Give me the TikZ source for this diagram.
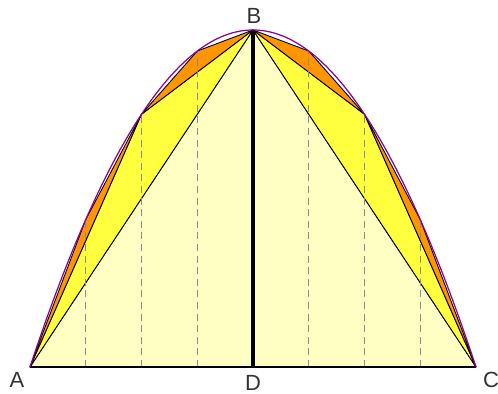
\documentclass[tikz,border=0pt]{standalone}
\usepackage{fontspec}
\setmainfont{Liberation Sans}
\definecolor{paleyellow}{RGB}{255,255,196}
\definecolor{brightyellow}{RGB}{255,255,64}
\definecolor{segorange}{RGB}{255,150,0}
\definecolor{curvepurple}{RGB}{140,0,150}

\begin{document}
\begin{tikzpicture}[
  x=0.02cm, y=-0.02cm,
  declare function={py(\x)=30+337*((\x-253)/223)^2;},
  piece/.style={draw=black, line width=0.5pt, line join=round},
  guide/.style={draw=black!45, dash pattern=on 4pt off 2.6pt, line width=0.75pt},
  lbl/.style={font=\fontsize{12.5}{12.5}\selectfont, text=black!80, inner sep=0pt}
]
\useasboundingbox (0,0) rectangle (498,394);

% points on the parabola
\coordinate (A) at (30,367);
\coordinate (B) at (253,30);
\coordinate (C) at (476,367);
\coordinate (D) at (253,367);
\coordinate (Q1) at (141.5,{py(141.5)});
\coordinate (Q2) at (364.5,{py(364.5)});
\coordinate (P1) at (85.75,{py(85.75)});
\coordinate (P2) at (197.25,{py(197.25)});
\coordinate (P3) at (308.75,{py(308.75)});
\coordinate (P4) at (420.25,{py(420.25)});

% triangles
\filldraw[piece, fill=paleyellow] (A) -- (B) -- (C) -- cycle;
\filldraw[piece, fill=brightyellow] (A) -- (Q1) -- (B) -- cycle;
\filldraw[piece, fill=brightyellow] (B) -- (Q2) -- (C) -- cycle;
\filldraw[piece, fill=segorange] (A) -- (P1) -- (Q1) -- cycle;
\filldraw[piece, fill=segorange] (Q1) -- (P2) -- (B) -- cycle;
\filldraw[piece, fill=segorange] (B) -- (P3) -- (Q2) -- cycle;
\filldraw[piece, fill=segorange] (Q2) -- (P4) -- (C) -- cycle;

% verticals
\foreach \p in {P1,Q1,P2,P3,Q2,P4}
  \draw[guide] (\p |- A) -- (\p);

\draw[line width=2pt] (B) -- (D);
\draw[line width=1pt] (A) -- (C);
\draw[curvepurple, line width=0.7pt] plot[domain=30:476, samples=120, smooth] (\x,{py(\x)});

% labels
\node[lbl] (lblA) at (17,380) {A};
\node[lbl] (lblB) at (254,15.5) {B};
\node[lbl] (lblC) at (491,380) {C};
\node[lbl] (lblD) at (253,383) {D};
\end{tikzpicture}
\end{document}
